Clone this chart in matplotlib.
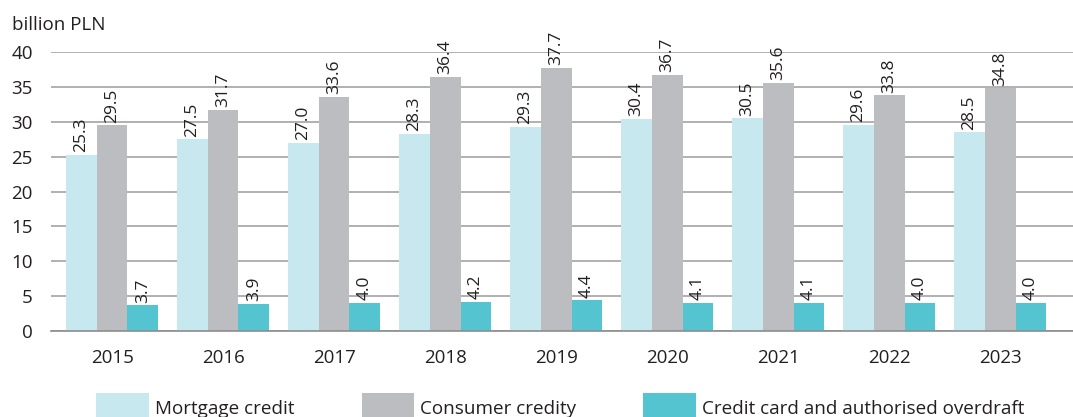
import numpy as np
import matplotlib.pyplot as plt
import matplotlib.patches as mpatches

plt.rcParams['font.family'] = ['Open Sans', 'DejaVu Sans']

# data
years = ['2015', '2016', '2017', '2018', '2019', '2020', '2021', '2022', '2023']
mortgage = [25.3, 27.5, 27.0, 28.3, 29.3, 30.4, 30.5, 29.6, 28.5]
consumer = [29.5, 31.7, 33.6, 36.4, 37.7, 36.7, 35.6, 33.8, 34.8]
cards = [3.7, 3.9, 4.0, 4.2, 4.4, 4.1, 4.1, 4.0, 4.0]

series_names = ['Mortgage credit', 'Consumer credity', 'Credit card and authorised overdraft']
colors = ['#c6e8ee', '#bcbdc1', '#55c4d1']
text_color = '#231f20'

fig = plt.figure(figsize=(10.73, 4.17), dpi=100)
ax = fig.add_axes([0.0475, 0.206, 0.9525, 0.669])

x = np.arange(len(years))
width = 0.2766
for i, (vals, col) in enumerate(zip([mortgage, consumer, cards], colors)):
    pos = x + (i - 1) * width
    bars = ax.bar(pos, vals, width=width, color=col, zorder=2)
    for b, v in zip(bars, vals):
        ax.annotate(f'{v:.1f}', (b.get_x() + b.get_width() / 2, v),
                    xytext=(0, 2), textcoords='offset points',
                    rotation=90, ha='center', va='bottom',
                    fontsize=12.5, color=text_color, zorder=3)

ax.set_ylim(0, 40)
ax.set_xlim(-0.551, 8.656)
ax.set_yticks(range(0, 41, 5))
ax.set_xticks(x)
ax.set_xticklabels(years)
ax.yaxis.grid(True, color='#a3a3a3', linewidth=1.2, zorder=0)
ax.set_axisbelow(True)
for side in ['top', 'right', 'left']:
    ax.spines[side].set_visible(False)
ax.spines['bottom'].set_color('#8c8c8c')
ax.spines['bottom'].set_linewidth(1.2)
ax.tick_params(axis='both', length=0, labelsize=13.5, colors=text_color)
ax.tick_params(axis='y', pad=13)
ax.tick_params(axis='x', pad=13)

fig.text(12 / 1073, 0.928, 'billion PLN', fontsize=13.5, color=text_color,
         ha='left', va='baseline')

# legend along the bottom edge, partly cut off as in the reference
patch_x = [96, 362, 643]
patch_w = [53, 52, 53]
text_x = [155, 420, 702]
for px, pw, tx, name, col in zip(patch_x, patch_w, text_x, series_names, colors):
    fig.add_artist(mpatches.Rectangle((px / 1073, 0), pw / 1073, 24 / 417,
                                      transform=fig.transFigure, facecolor=col,
                                      edgecolor='none'))
    fig.text(tx / 1073, 3 / 417, name, fontsize=13.6, color=text_color,
             ha='left', va='baseline')

fig.savefig('out.png', dpi=100)
